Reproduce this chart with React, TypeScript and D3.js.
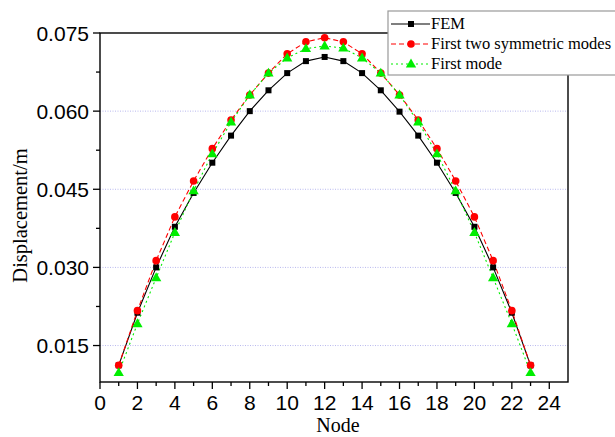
import React from "react";
import * as d3 from "d3";

const nodes = d3.range(1, 24);
const femValues = [0.0112, 0.0213, 0.0300, 0.0378, 0.0443, 0.0501, 0.0553, 0.0600, 0.0640, 0.0673, 0.0696, 0.0704, 0.0696, 0.0673, 0.0640, 0.0599, 0.0553, 0.0501, 0.0443, 0.0378, 0.0300, 0.0213, 0.0112];
const twoModeValues = [0.0112, 0.0217, 0.0313, 0.0397, 0.0466, 0.0528, 0.0583, 0.0631, 0.0673, 0.0710, 0.0733, 0.0741, 0.0733, 0.0710, 0.0673, 0.0631, 0.0583, 0.0528, 0.0466, 0.0397, 0.0313, 0.0217, 0.0112];
const firstModeValues = [0.0098, 0.0192, 0.0280, 0.0367, 0.0447, 0.0518, 0.0579, 0.0631, 0.0673, 0.0702, 0.0720, 0.0725, 0.0721, 0.0702, 0.0673, 0.0631, 0.0579, 0.0518, 0.0447, 0.0367, 0.0280, 0.0192, 0.0098];
const xTicks = d3.range(0, 25, 2);
const yTicks = [0.015, 0.03, 0.045, 0.06, 0.075];
const seriesNames = ["FEM", "First two symmetric modes", "First mode"];

const W = 615, H = 437;
const L = 100, R = 568, T = 33, B = 382;

export default function App() {
  const x = d3.scaleLinear().domain([0, 25]).range([L, R]);
  const y = d3.scaleLinear().domain([0.008, 0.075]).range([B, T]);
  const series = [
    { name: seriesNames[0], values: femValues, color: "#000000", dash: "none", marker: "square" },
    { name: seriesNames[1], values: twoModeValues, color: "#ff0000", dash: "5,3", marker: "circle" },
    { name: seriesNames[2], values: firstModeValues, color: "#00ee00", dash: "2,3", marker: "triangle" },
  ];
  const line = d3.line<number>().x((_, i) => x(nodes[i])).y((v) => y(v));
  const tri = d3.symbol().type(d3.symbolTriangle).size(46)();
  const marker = (m: string, cx: number, cy: number, color: string, key: any) => {
    if (m === "square") return <rect key={key} x={cx - 3} y={cy - 3} width={6} height={6} fill={color} />;
    if (m === "circle") return <circle key={key} cx={cx} cy={cy} r={3.8} fill={color} />;
    return <path key={key} d={tri as string} transform={`translate(${cx},${cy + 0.5})`} fill={color} />;
  };
  const xMinor = d3.range(1, 25, 2);
  const yMinor = [0.0225, 0.0375, 0.0525, 0.0675];
  const fmt = d3.format(".3f");
  return (
    <svg width={W} height={H} style={{ position: "absolute", left: 0, top: 0 }}>
      <rect width={W} height={H} fill="#fff" />
      {yTicks.slice(0, 4).map((t) => (
        <line key={"g" + t} x1={L} x2={R} y1={y(t)} y2={y(t)} stroke="#b8b8ee" strokeWidth={1} strokeDasharray="1,1.5" />
      ))}
      {series.map((s) => (
        <path key={s.name} d={line(s.values) as string} fill="none" stroke={s.color} strokeWidth={1.1} strokeDasharray={s.dash} />
      ))}
      {series.map((s) => s.values.map((v, i) => marker(s.marker, x(nodes[i]), y(v), s.color, s.name + i)))}
      <rect x={L} y={T} width={R - L} height={B - T} fill="none" stroke="#000" strokeWidth={1.4} />
      {xTicks.map((t) => (
        <g key={"x" + t}>
          <line x1={x(t)} x2={x(t)} y1={B} y2={B + 7} stroke="#000" strokeWidth={1.3} />
          <text x={x(t)} y={410} textAnchor="middle" fontFamily="Liberation Sans, Arial, sans-serif" fontSize={21}>{t}</text>
        </g>
      ))}
      {xMinor.map((t) => (
        <line key={"xm" + t} x1={x(t)} x2={x(t)} y1={B} y2={B + 4} stroke="#000" strokeWidth={1.3} />
      ))}
      {yTicks.map((t) => (
        <g key={"y" + t}>
          <line x1={L - 7} x2={L} y1={y(t)} y2={y(t)} stroke="#000" strokeWidth={1.3} />
          <text x={89} y={y(t) + 7.5} textAnchor="end" fontFamily="Liberation Sans, Arial, sans-serif" fontSize={21}>{fmt(t)}</text>
        </g>
      ))}
      {yMinor.map((t) => (
        <line key={"ym" + t} x1={L - 4} x2={L} y1={y(t)} y2={y(t)} stroke="#000" strokeWidth={1.3} />
      ))}
      <text x={338} y={432} textAnchor="middle" fontFamily="Liberation Serif, Times New Roman, serif" fontSize={20}>Node</text>
      <text transform={`translate(27,${(T + B) / 2 + 8}) rotate(-90)`} textAnchor="middle" fontFamily="Liberation Serif, Times New Roman, serif" fontSize={20.5}>Displacement/m</text>
      <rect x={388} y={11} width={240} height={64} fill="#fff" stroke="#999" strokeWidth={1.2} />
      {series.map((s, i) => {
        const ly = 24 + i * 20;
        return (
          <g key={"lg" + i}>
            <line x1={391} x2={430} y1={ly} y2={ly} stroke={s.color} strokeWidth={1.1} strokeDasharray={s.dash} />
            {marker(s.marker, 411, ly, s.color, "lm" + i)}
            <text x={431} y={ly + 5} fontFamily="Liberation Serif, Times New Roman, serif" fontSize={16.5}>{s.name}</text>
          </g>
        );
      })}
    </svg>
  );
}
